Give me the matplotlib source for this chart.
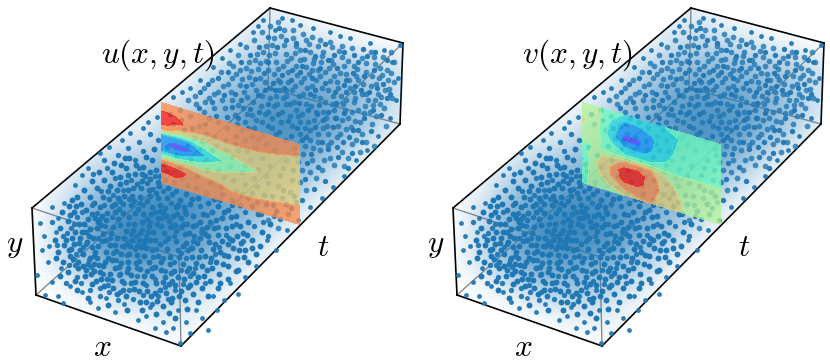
import numpy as np
from matplotlib import pyplot as plt
from matplotlib.colors import LinearSegmentedColormap
from matplotlib.patches import Polygon
from matplotlib.transforms import Affine2D

plt.rcParams['mathtext.fontset'] = 'cm'

# picture position of the box corners, left panel
box_top_left = (32, 208)
box_top_back = (270, 8)
box_top_right = (403, 43)
box_top_front = (179, 257)
box_low_left = (36, 295)
box_low_back = (268, 88)
box_low_right = (400, 124)
box_low_front = (181, 346)

outer_edges = [
    (box_top_left, box_top_back), (box_top_back, box_top_right),
    (box_top_right, box_low_right), (box_low_right, box_low_front),
    (box_low_front, box_low_left), (box_low_left, box_top_left),
]
inner_edges = [
    (box_top_right, box_top_front), (box_top_front, box_top_left),
    (box_low_left, box_low_back), (box_low_back, box_low_right),
    (box_top_back, box_low_back), (box_top_front, box_low_front),
]
box_outline = [box_top_left, box_top_back, box_top_right, box_low_right, box_low_front, box_low_left]

# how much of the picture the cloud covers, estimated on a coarse raster
cover_x = [20, 50, 80, 110, 140, 170, 200, 230, 260, 290, 320, 350, 380, 410]
cover_y = [0, 30, 60, 90, 120, 150, 180, 210, 240, 270, 300, 330, 360]
cover = [
    [0, 0, 0, 0, 0, 0, 0, 0, .1, .1, 0, 0, 0, 0],
    [0, 0, 0, 0, 0, 0, 0, .05, .25, .3, .2, .1, 0, 0],
    [0, 0, 0, 0, 0, 0, .1, .3, .45, .5, .5, .45, .4, .2],
    [0, 0, 0, 0, 0, .1, .3, .5, .7, .7, .65, .55, .4, .2],
    [0, 0, 0, .05, .1, .3, .5, .6, .75, .85, .8, .6, .4, .1],
    [0, 0, .1, .25, .3, .5, .6, .65, .7, .7, .6, .3, .1, 0],
    [0, .05, .3, .45, .6, .7, .75, .7, .65, .5, .3, .1, 0, 0],
    [0, .2, .55, .75, .85, .85, .75, .6, .5, .3, .05, 0, 0, 0],
    [0, .3, .6, .85, .9, .85, .7, .5, .3, .05, 0, 0, 0, 0],
    [0, .2, .5, .7, .7, .65, .5, .3, .05, 0, 0, 0, 0, 0],
    [0, .02, .1, .3, .4, .35, .2, .05, 0, 0, 0, 0, 0, 0],
    [0, 0, 0, 0, .05, .15, .05, 0, 0, 0, 0, 0, 0, 0],
    [0, 0, 0, 0, 0, 0, 0, 0, 0, 0, 0, 0, 0, 0],
]

# residual points (same cloud in both panels)
dots_edge = [
    (90,302),(63,303),(58,296),(45,295),(37,275),(42,250),(40,223),(52,207),(75,185),(82,175),
    (100,153),(122,140),(143,128),(157,117),(173,97),(182,92),(200,80),(213,67),(230,50),(253,32),
    (263,20),(282,18),(292,20),(313,28),(330,32),(350,38),(370,43),(400,45),(367,150),(333,187),
    (310,207),(287,230),(267,240),(245,277),(230,283),(217,310),(202,318),(190,333),(180,343),(173,328),
    (155,328),(138,320),(115,312),(98,308),(48,262),(44,236),(58,218),(64,203),(88,168),(109,147),
    (130,133),(148,122),(190,88),(222,58),(240,44),(258,26),(275,30),(300,25),(340,36),(384,50),
    (392,62),(398,78),(396,100),(390,118),(378,136),(356,160),(344,176),(322,198),(298,220),(276,250),
    (256,266),(238,294),(224,300),(208,330),(186,322),(178,310),(163,322),(146,316),(124,304),(106,298),
    (82,292),(70,286),(52,282),(61,268),(49,246),(56,232),(166,332),(150,307),(196,310),(213,296),
]
dots_front = [
    (60,228),(68,221),(74,212),(81,204),(90,197),(97,188),(104,180),(112,172),(121,165),(129,158),
    (66,240),(75,232),(84,224),(92,214),(100,207),(109,199),(117,190),(126,182),(135,174),(143,167),
    (58,252),(69,250),(79,243),(89,236),(97,228),(106,220),(115,212),(123,204),(132,196),(141,188),(150,179),
    (63,262),(73,259),(83,254),(92,247),(102,241),(111,233),(120,225),(129,217),(138,209),(147,201),(156,193),
    (68,272),(78,268),(88,264),(97,258),(106,252),(115,245),(124,238),(133,230),(142,222),(151,214),(160,205),
    (75,281),(85,276),(94,271),(103,266),(112,260),(121,254),(130,246),(139,240),(148,232),(157,224),(166,216),
    (92,284),(101,279),(110,274),(119,267),(128,262),(137,255),(146,248),(155,240),(164,233),(172,226),(181,218),
    (113,288),(122,281),(131,275),(140,269),(149,262),(158,256),(167,249),(176,241),(185,234),(193,226),
    (134,289),(143,283),(152,276),(161,270),(170,264),(179,257),(188,250),(197,243),(205,234),(214,228),
    (140,302),(151,296),(160,290),(169,284),(178,277),(187,271),(196,263),(205,256),(213,249),(222,241),
    (163,306),(172,298),(181,291),(190,285),(198,277),(207,270),(216,262),(224,255),(233,248),
    (70,215),(79,224),(86,210),(95,218),(103,197),(112,206),(120,177),(128,190),(137,184),(145,176),
    (64,245),(72,238),(80,250),(87,242),(95,252),(103,234),(110,245),(118,219),(126,231),(134,224),(143,214),(152,207),
    (70,256),(78,262),(86,270),(94,264),(100,272),(108,258),(116,251),(124,246),(132,240),(140,233),(149,226),(158,218),
    (80,238),(90,229),(98,222),(107,213),(115,204),(124,196),(133,188),(142,181),(150,172),(159,186),(167,198),
    (96,281),(104,286),(112,280),(120,274),(128,268),(136,263),(144,256),(152,250),(160,244),(168,238),(176,231),(184,224),
    (117,294),(126,296),(135,282),(144,276),(152,268),(161,262),(170,257),(178,250),(186,243),(194,236),(202,229),(210,222),
    (147,291),(156,283),(165,277),(174,271),(183,264),(192,257),(201,250),(209,242),(218,235),(226,228),
    (166,293),(175,285),(184,279),(193,273),(202,266),(211,258),(220,252),(228,244),(237,236),
    (146,302),(157,301),(185,300),(193,294),(202,288),(210,281),(219,274),(228,266),(237,258),(245,250),
    (169,313),(187,309),(198,302),(208,296),(218,288),(228,279),(238,270),(248,262),(256,254),
    (128,175),(136,165),(146,157),(154,149),(120,184),(160,176),(168,188),(176,207),(185,212),(193,216),(203,214),
    (152,160),(108,191),(86,232),(125,158),(114,163),(99,172),(92,181),(84,190),(77,197),(69,206),
    (212,212),(222,218),(232,226),(243,233),(252,240),(262,232),(270,224),(241,243),(236,216),(248,222),(258,214),
    (156,170),(164,164),(172,194),(180,200),(190,204),(198,198),(208,203),(218,206),(228,210),(240,205),(252,206),(266,204),
    (123,213),(131,205),(140,197),(149,190),(158,198),(165,208),(173,216),(181,227),(189,233),(160,211),(150,240),(141,247),
    (74,244),(82,232),(90,258),(98,246),(106,240),(113,227),(121,263),(129,254),(137,246),(145,240),(153,232),(161,226),
    (169,221),(177,214),(184,207),(192,199),(200,222),(208,236),(216,220),(224,212),(232,240),(240,226),(200,238),(192,248),
    (55,240),(62,212),(72,200),(56,258),(60,276),(77,290),(88,298),(108,305),(127,310),(142,310),(156,314),(175,318),
    (71,249),(83,266),(93,238),(101,225),(105,262),(117,238),(119,209),(127,272),(135,213),(139,261),(147,219),(155,267),
    (163,213),(171,273),(175,225),(183,246),(189,268),(199,257),(207,227),(215,244),(223,264),(231,217),(239,250),(247,235),
    (76,206),(88,219),(94,203),(102,216),(110,186),(118,198),(126,168),(134,201),(142,174),(150,196),(158,182),(166,171),
    (91,274),(99,265),(107,279),(115,268),(123,290),(131,283),(139,291),(147,271),(155,293),(163,282),(171,302),(179,296),
    (188,287),(196,282),(204,276),(212,268),(220,283),(228,256),(236,271),(244,257),(252,248),(260,246),(178,205),(186,194),
    (196,188),(206,193),(214,199),(222,194),(232,200),(242,194),(252,193),(264,195),(276,211),(286,204),(174,182),(182,178),
]
dots_fill = [
    (67,233),(77,217),(83,247),(105,226),(97,213),(128,224),(120,201),(113,253),(136,236),(89,260),(75,265),(66,283),
    (101,191),(93,174),(115,178),(107,168),(135,160),(143,151),(128,148),(118,155),(104,160),(158,140),(150,134),(139,142),
    (143,205),(155,212),(146,236),(127,243),(156,249),(137,268),(124,283),(109,292),(100,296),(118,300),(133,299),(146,285),
    (165,241),(174,236),(181,253),(163,258),(174,262),(193,241),(201,232),(181,270),(165,287),(155,279),(190,276),(205,283),
    (215,254),(226,235),(236,224),(218,227),(207,215),(196,225),(186,214),(171,203),(163,191),(176,191),(187,185),(197,176),
    (210,182),(221,186),(233,180),(245,184),(257,186),(268,183),(280,175),(293,170),(207,170),(220,160),(232,157),(245,165),
    (258,169),(270,166),(283,168),(295,155),(307,163),(318,167),(328,149),(337,147),(348,168),(358,130),(349,137),(338,157),
    (272,196),(283,190),(294,196),(305,179),(314,189),(325,181),(273,205),(261,214),(268,236),(280,219),(291,208),(302,200),
    (248,198),(236,191),(224,177),(212,150),(199,150),(187,146),(176,155),(167,147),(180,167),(191,160),(202,141),(214,137),
    (225,141),(235,144),(247,151),(258,139),(268,126),(279,132),(291,136),(302,140),(311,154),(322,142),(248,128),(238,118),
    (227,117),(216,116),(205,124),(192,128),(181,120),(170,114),(199,108),(212,102),(224,95),(235,94),(246,86),(255,79),
    (264,73),(273,83),(282,75),(291,80),(300,72),(310,94),(319,105),(328,112),(336,103),(346,92),(355,86),(364,76),
    (374,70),(383,84),(390,94),(381,115),(371,131),(362,142),(352,153),(343,142),(333,127),(323,120),(315,127),(306,137),
    (297,128),(288,121),(278,114),(268,104),(259,112),(250,109),(241,100),(232,107),(258,95),(268,62),(277,47),(286,40),
    (296,43),(305,50),(315,56),(325,44),(334,55),(344,52),(354,55),(363,49),(375,52),(387,60),(279,28),(268,37),
    (259,47),(250,55),(241,62),(228,72),(218,78),(208,84),(200,92),(315,90),(325,83),(335,92),(344,85),(353,73),
    (361,90),(369,92),(377,88),(387,98),(373,110),(364,118),(353,130),(344,113),(335,118),(317,114),(308,110),(299,103),
    (284,88),(275,90),(265,90),(292,70),(302,66),(312,78),(320,68),(328,60),(337,68),(346,80),(358,62),(367,56),
    (77,277),(69,265),(57,245),(52,222),(63,236),(71,228),(90,290),(81,283),(100,288),(119,275),(143,295),(152,304),
    (168,299),(183,284),(175,290),(195,268),(186,258),(210,262),(219,247),(229,238),(243,241),(254,226),(263,222),(274,216),
    (245,212),(257,202),(232,205),(220,200),(200,206),(187,224),(170,227),(162,218),(150,222),(142,230),(131,234),(122,246),
    (110,238),(98,238),(86,244),(76,254),(91,267),(103,274),(116,260),(127,255),(135,249),(144,243),(153,257),(165,271),
    (172,281),(158,296),(137,276),(129,290),(120,292),(108,285),(94,256),(84,232),(74,224),(104,205),(113,195),(123,190),
    (131,180),(139,168),(147,183),(155,176),(165,180),(152,189),(140,203),(129,199),(112,217),(100,219),(82,212),(92,205),
]
dots_back = [
    (195,96),(204,88),(212,80),(221,72),(229,63),(238,55),(246,47),(254,40),(262,32),(270,26),(278,22),
    (205,102),(214,94),(223,86),(232,78),(240,70),(249,62),(257,54),(266,46),(274,38),(284,30),(293,30),
    (222,100),(231,92),(240,85),(249,77),(258,69),(266,61),(275,53),(284,45),(293,38),(303,34),(312,37),
    (238,105),(247,97),(256,90),(265,82),(274,74),(283,66),(291,58),(300,50),(309,44),(320,40),(330,42),
    (252,115),(261,106),(270,98),(279,90),(288,82),(297,75),(306,67),(314,59),(323,52),(332,47),(342,46),
    (305,128),(314,120),(323,112),(332,104),(341,96),(350,88),(358,80),(366,72),(375,64),(383,57),(391,52),
    (318,134),(327,126),(336,118),(345,110),(354,102),(362,94),(371,86),(379,78),(387,70),(394,62),
    (328,145),(337,137),(346,129),(355,121),(364,113),(373,105),(381,97),(389,89),(394,82),
    (302,114),(311,106),(320,98),(328,90),(337,82),(346,74),(354,66),(362,58),(371,52),(352,48),
    (290,104),(299,96),(307,88),(316,80),(325,72),(333,64),(342,57),(300,60),(310,52),(318,46),
    (268,112),(277,104),(286,96),(295,86),(304,78),(312,70),(321,62),(280,82),(288,72),(296,66),
    (262,122),(272,118),(282,112),(292,126),(300,134),(310,140),(320,150),(330,158),(342,152),(352,144),(362,134),(372,124),
    (305,146),(312,160),(322,170),(334,165),(316,178),(306,190),(296,202),(288,214),(278,228),(268,220),(282,198),(292,180),
    (302,170),(344,166),(356,140),(366,142),(376,116),(384,108),(392,98),(386,126),(374,146),(360,152),(348,158),
    (225,108),(235,115),(245,122),(254,128),(214,108),(204,112),(196,104),(188,100),(232,100),(243,108),(253,102),(262,96),
    (270,88),(278,80),(286,90),(294,102),(303,94),(312,86),(320,76),(329,68),(338,88),(346,100),(354,92),(363,84),(372,76),
    (380,68),(388,80),(378,94),(368,100),(358,110),(348,118),(338,126),(328,134),(318,142),(310,130),(300,122),(290,116),
    (281,122),(272,128),(262,136),(252,136),(242,130),(306,40),(296,46),(286,54),(276,62),(268,70),(260,78),(252,84),(244,92),
    (326,118),(334,110),(342,120),(352,112),(360,122),(370,112),(380,104),(366,94),(376,84),(356,76),(344,66),(334,76),
    (322,88),(314,96),(306,104),(296,110),(286,104),(276,96),(236,74),(228,84),(218,92),(209,98),(246,68),(255,60),(263,52),(272,45),(281,36),
    (233,66),(242,79),(251,71),(260,63),(269,55),(278,69),(287,61),(295,53),(304,59),(313,63),(322,56),(331,60),
    (339,51),(348,61),(357,69),(366,63),(374,57),(382,75),(391,73),(385,90),(375,100),(365,106),(355,98),(349,80),
    (340,73),(330,81),(318,70),(309,74),(301,82),(292,90),(283,98),(274,106),(265,114),(256,120),(247,114),(237,124),
    (298,116),(308,122),(316,112),(325,102),(333,96),(343,104),(351,127),(340,134),(331,142),(323,128),(313,148),(303,154),
    (294,148),(285,140),(276,134),(266,144),(255,148),(245,140),(236,136),(227,128),(218,122),(209,118),(199,126),(190,116),
    (180,110),(173,124),(184,130),(194,138),(206,134),(216,146),(226,150),(238,150),(250,160),(262,158),(274,150),(286,160),
    (298,162),(310,172),(324,160),(300,182),(290,192),(278,186),(266,176),(254,178),(242,172),(230,166),(218,170),(206,160),
]

# plane position: lower left corner, and the t and y directions, in picture pixels
plane_origin = (161.5, 182.5)
plane_t_dir = (138, 42)
plane_y_dir = (0, -80)

u_t = [0, .05, .1, .15, .2, .3, .4, .5, .6, .7, .8, 1]
u_y = [0, .1, .2, .25, .3, .4, .5, .6, .65, .7, .8, .9, 1]
u_levels = [-.35, -.1, .15, .4, .65, .9, 1.15, 1.4]
u_shades = [.08, .2, .36, .55, .7, .82, .97]
u_field = [
    [1.0, 1.0, 1.0, 1.0, 1.0, 1.0, 1.0, 1.0, 1.0, 1.0, 1.0, 1.0],
    [1.12, 1.12, 1.14, 1.12, 1.08, 1.02, 1.0, .97, .97, .98, 1.0, 1.02],
    [1.2, 1.22, 1.22, 1.18, 1.12, .98, .92, .84, .82, .84, .88, .93],
    [1.12, 1.1, 1.05, 1.0, .95, .85, .82, .83, .82, .82, .83, .88],
    [.75, .75, .75, .78, .8, .7, .72, .76, .78, .79, .8, .85],
    [.1, .1, .1, .15, .25, .4, .55, .64, .7, .75, .76, .76],
    [-.02, -.12, -.2, -.2, -.15, .1, .33, .48, .57, .65, .72, .76],
    [.15, .1, .05, .07, .1, .42, .58, .65, .72, .76, .78, .78],
    [.75, .72, .55, .5, .5, .55, .7, .76, .8, .81, .8, .79],
    [1.12, 1.05, .85, .82, .78, .72, .8, .85, .85, .84, .82, .8],
    [1.25, 1.28, 1.24, 1.16, 1.08, 1.02, .98, .97, .96, .95, .92, .85],
    [1.14, 1.14, 1.12, 1.1, 1.08, 1.05, 1.04, 1.03, 1.02, 1.0, .98, .93],
    [1.0, 1.0, 1.0, 1.0, 1.0, 1.0, 1.0, 1.0, 1.0, 1.0, 1.0, 1.0],
]

v_t = [0, .1, .2, .3, .4, .5, .6, .7, .8, .9, 1]
v_y = [0, .1, .2, .3, .4, .5, .6, .7, .8, .9, 1]
v_levels = [-.4, -.3, -.2, -.1, 0, .1, .2, .3, .4]
v_shades = [.08, .2, .33, .47, .6, .7, .82, .97]
v_field = [
    [-.01, .02, .05, .1, .18, .2, .16, .11, .06, .05, .04],
    [-.03, .04, .12, .22, .26, .22, .16, .11, .06, .04, .03],
    [-.06, .08, .19, .34, .33, .25, .16, .09, .06, .04, .03],
    [-.12, .1, .2, .36, .36, .24, .14, .07, .05, .03, .02],
    [-.06, .08, .13, .22, .24, .2, .08, .04, .03, .02, .01],
    [-.03, .01, -.04, -.09, -.09, -.09, -.08, -.05, -.03, -.02, -.02],
    [.05, .05, -.08, -.2, -.22, -.19, -.11, -.07, -.05, -.04, -.04],
    [.08, .03, -.14, -.33, -.33, -.21, -.13, -.08, -.06, -.05, -.04],
    [.11, .04, -.12, -.26, -.27, -.22, -.14, -.09, -.07, -.06, -.05],
    [.06, .05, -.08, -.21, -.21, -.17, -.13, -.1, -.08, -.07, -.06],
    [.02, .02, -.05, -.1, -.12, -.12, -.1, -.08, -.06, -.06, -.05],
]

cover_cmap = LinearSegmentedColormap.from_list(
    'cover', [(.12, .47, .71, 0), (.12, .47, .71, 1)])


def draw_panel(ax, title, title_x, t_grid, y_grid, field, levels, shades):
    for a, b in outer_edges:
        ax.plot([a[0], b[0]], [a[1], b[1]], color='black', lw=1.2, zorder=1)
    for a, b in inner_edges:
        ax.plot([a[0], b[0]], [a[1], b[1]], color='black', lw=1.0, alpha=.45, zorder=1)

    im = ax.imshow(np.array(cover), extent=(cover_x[0], cover_x[-1], cover_y[-1], cover_y[0]),
                   aspect='auto', interpolation='bicubic', cmap=cover_cmap,
                   vmin=0, vmax=1.0, zorder=1.5)
    im.set_clip_path(Polygon(box_outline, transform=ax.transData))

    for dots, alpha, size in ((dots_back, .8, 17), (dots_edge, .95, 12), (dots_fill, .95, 15), (dots_front, 1, 18)):
        pts = np.array(dots)
        ax.scatter(pts[:, 0], pts[:, 1], s=size, color='#1f77b4', alpha=alpha,
                   linewidths=0, zorder=2)

    plane = Affine2D.from_values(plane_t_dir[0], plane_t_dir[1],
                                 plane_y_dir[0], plane_y_dir[1],
                                 plane_origin[0], plane_origin[1])
    ax.contourf(t_grid, y_grid, np.array(field), levels=levels, colors=plt.cm.rainbow(shades),
                alpha=.75, zorder=3, transform=plane + ax.transData)

    ax.text(title_x, 55, title, fontsize=22.5, ha='center', va='center')
    ax.text(15, 245, '$y$', fontsize=22.5, ha='center', va='center')
    ax.text(102, 347, '$x$', fontsize=22.5, ha='center', va='center')
    ax.text(323, 247, '$t$', fontsize=22.5, ha='center', va='center')

    ax.set_xlim(0, 415)
    ax.set_ylim(363, 0)
    ax.axis('off')


fig = plt.figure(figsize=(8.3, 3.63), dpi=100)
ax1 = fig.add_axes([0, 0, 415 / 830, 1])
ax2 = fig.add_axes([421 / 830, 0, 415 / 830, 1])
ax1.patch.set_alpha(0)
ax2.patch.set_alpha(0)

draw_panel(ax1, '$u(x,y,t)$', 158, u_t, u_y, u_field, u_levels, u_shades)
draw_panel(ax2, '$v(x,y,t)$', 157, v_t, v_y, v_field, v_levels, v_shades)

plt.savefig('out.png', dpi=100)
